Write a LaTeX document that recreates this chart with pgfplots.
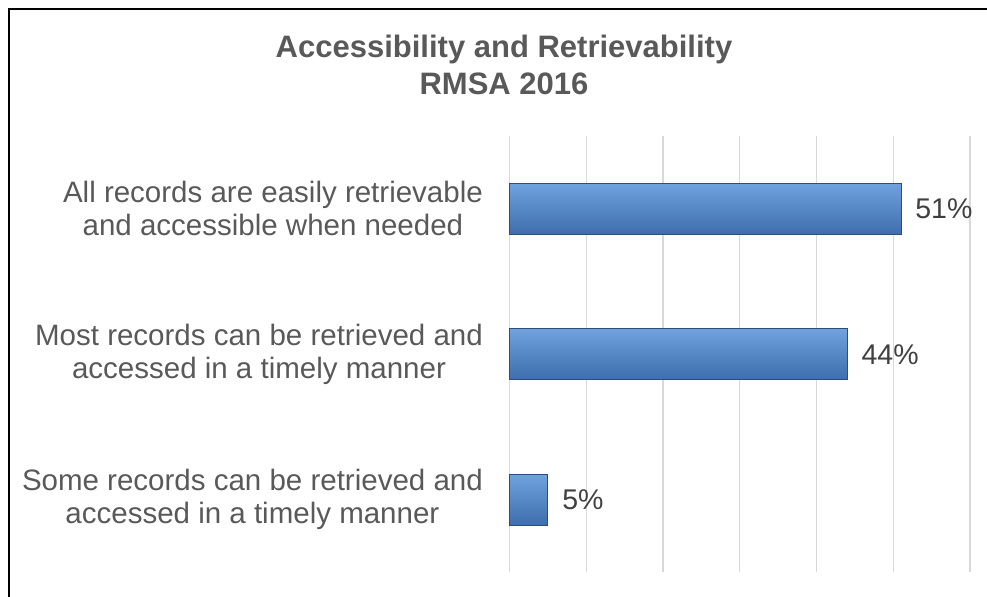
\documentclass[border=0pt]{standalone}
\usepackage{pgfplots}
\pgfplotsset{compat=1.18}
\usepackage{fontspec}
\setmainfont{Liberation Sans}
\definecolor{labelgray}{HTML}{595959}
\definecolor{datagray}{HTML}{404040}
\definecolor{gridgray}{HTML}{D9D9D9}
\definecolor{barmid}{HTML}{5289CB}
\definecolor{bartop}{HTML}{6FA2DF}
\definecolor{barbot}{HTML}{3E6EAC}
\definecolor{baredge}{HTML}{2B4E7E}
\begin{document}
\begin{tikzpicture}[x=1bp,y=1bp]
\path[use as bounding box] (0,0) rectangle (987,597);
\draw[line width=2bp] (9,0) -- (9,587.5) -- (987,587.5);
\node[anchor=base, text=labelgray, font=\fontsize{31bp}{37bp}\selectfont\bfseries] at (504,539) {Accessibility and Retrievability};
\node[anchor=base, text=labelgray, font=\fontsize{31bp}{37bp}\selectfont\bfseries] at (504,502) {RMSA 2016};
\begin{axis}[
  at={(509.5bp,24.5bp)}, anchor=south west,
  scale only axis, width=460.5bp, height=436.5bp,
  xbar, bar width=51bp, bar shift=0pt,
  xmin=0, xmax=60, ymin=-0.5, ymax=2.5,
  xtick={0,10,...,60}, xticklabels={},
  ytick={0,1,2},
  yticklabels={{Some records can be retrieved and\\accessed in a timely manner},
               {Most records can be retrieved and\\accessed in a timely manner},
               {All records are easily retrievable\\and accessible when needed}},
  yticklabel style={align=center, anchor=east, inner sep=0pt, xshift=-26.5bp,
     text=labelgray, font=\fontsize{29.5bp}{33bp}\selectfont},
  xmajorgrids, grid style={draw=gridgray, line width=1.3bp},
  axis line style={draw=none}, major tick length=0pt,
  clip=false,
  point meta=x,
  /pgf/number format/assume math mode=true,
  nodes near coords={\pgfmathprintnumber{\pgfplotspointmeta}\%},
  nodes near coords align=horizontal,
  every node near coord/.append style={anchor=west, inner sep=0pt, xshift=14bp,
     text=datagray, font=\fontsize{28.5bp}{33bp}\selectfont},
  barstyle/.style={draw=baredge, line width=0.8bp, top color=bartop, middle color=barmid, bottom color=barbot},
]
\addplot[barstyle] coordinates {(5,0)};
\addplot[barstyle] coordinates {(44,1)};
\addplot[barstyle] coordinates {(51,2)};
\end{axis}
\end{tikzpicture}
\end{document}
